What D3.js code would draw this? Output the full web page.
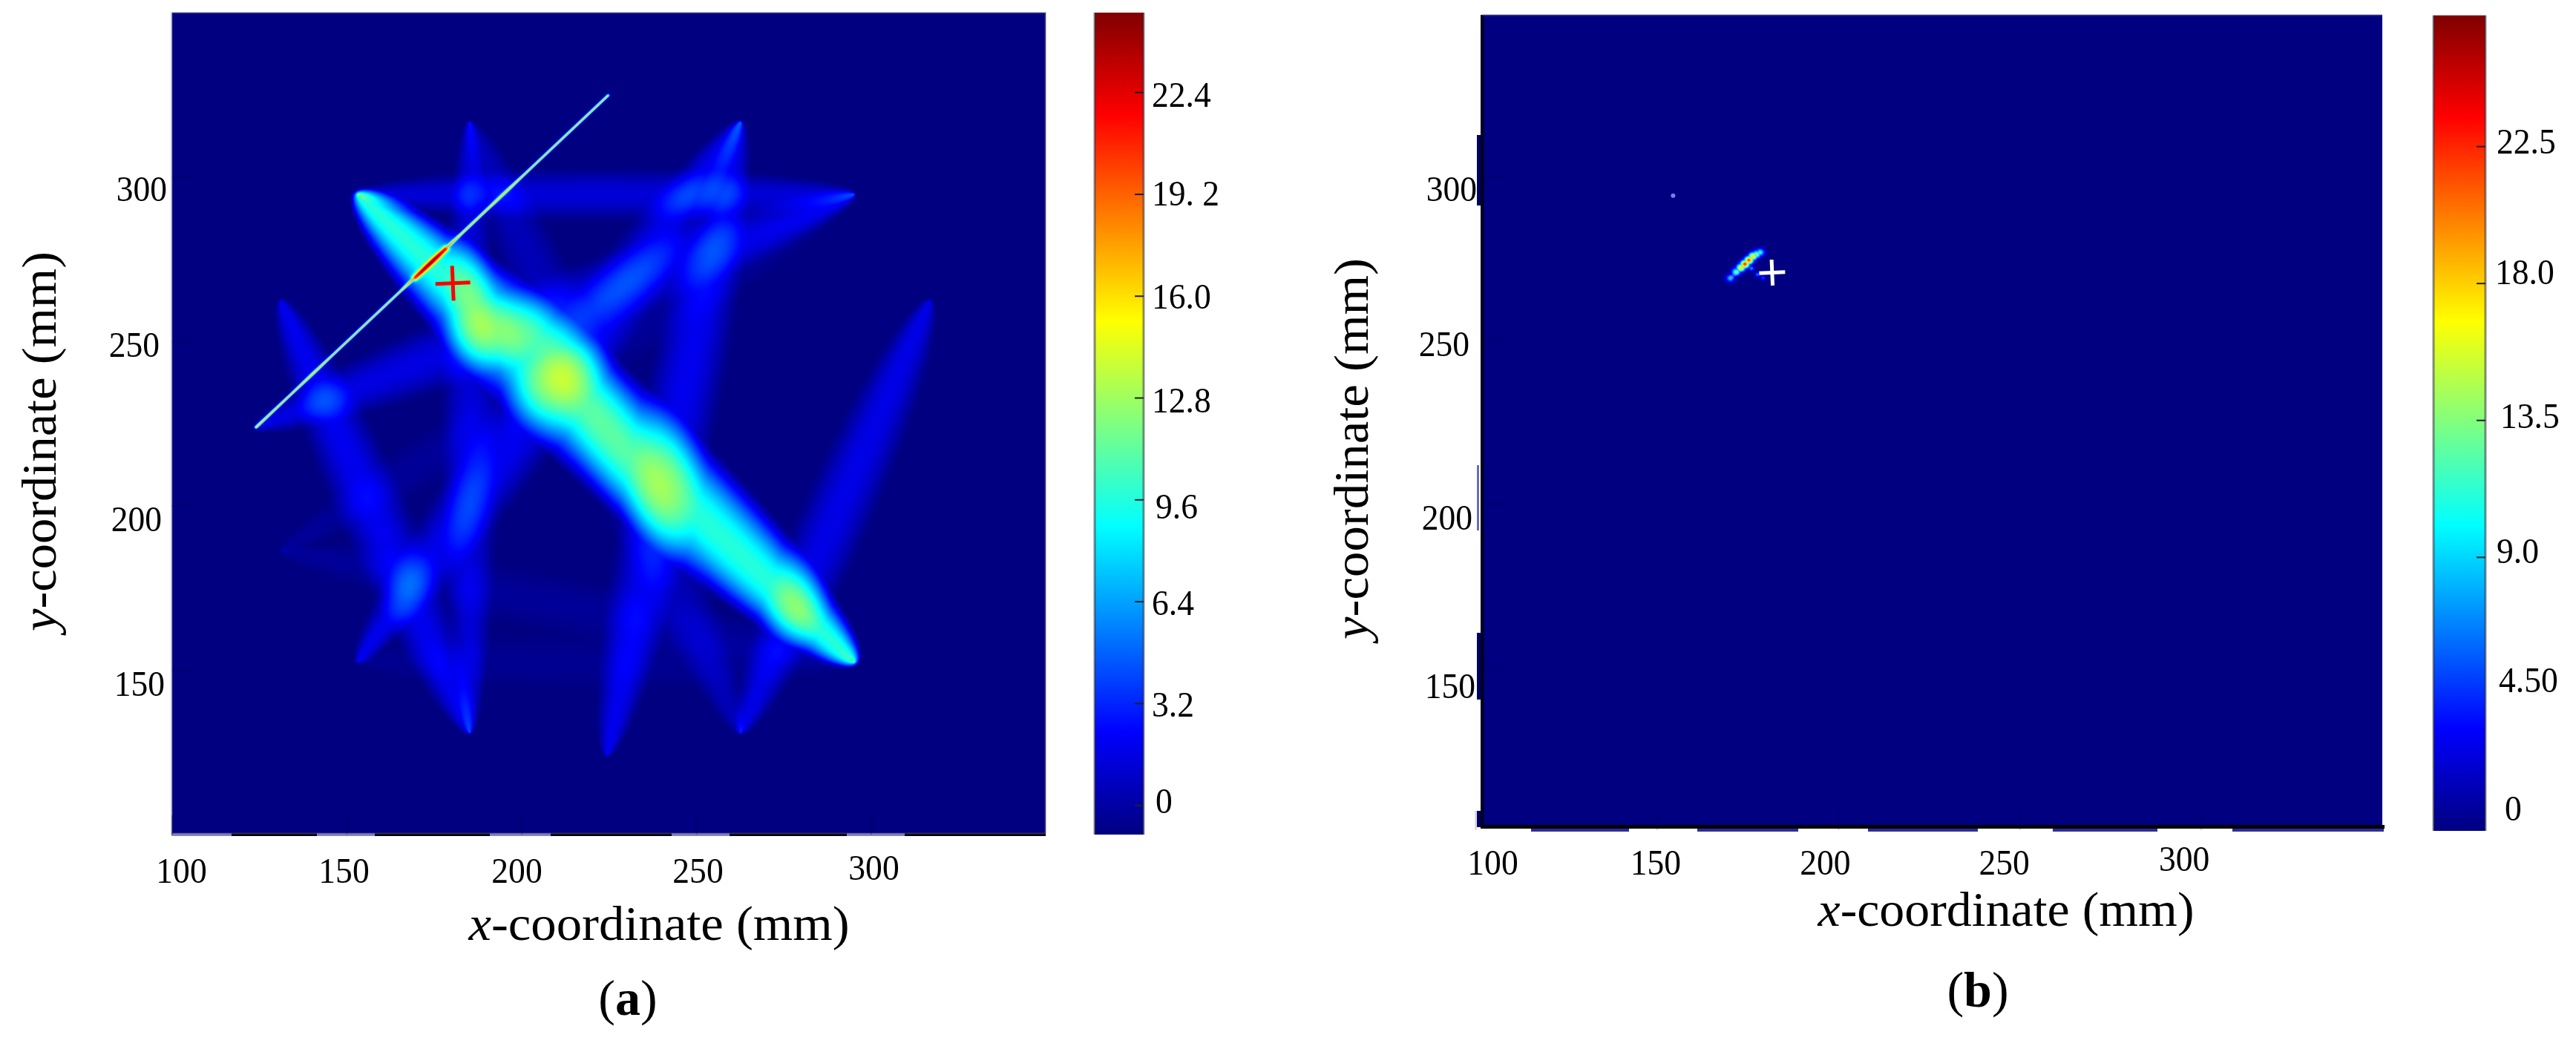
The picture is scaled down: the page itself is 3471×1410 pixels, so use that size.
<!DOCTYPE html>
<html>
<head>
<meta charset="utf-8">
<script src="https://cdnjs.cloudflare.com/ajax/libs/d3/7.8.5/d3.min.js"></script>
<style>
  body { margin: 0; background: #fff; }
  canvas, svg { position: absolute; left: 0; top: 0; }
  text { font-family: "Liberation Serif", serif; fill: #000; }
</style>
</head>
<body>
<canvas id="heatA"></canvas>
<canvas id="heatB"></canvas>
<svg id="chart" width="3471" height="1410"></svg>
<script>
// values, in mm
var axisTicks = [100, 150, 200, 250, 300],
    yTicks = [150, 200, 250, 300];

// (a) end points of the sensor paths
var sensorX = [153.2, 185.2, 262.7, 295.2, 295.2, 262.7, 224.5, 185.2, 153.2, 131.2, 131.2, 316.9, 124.1],
    sensorY = [294.7, 316.7, 316.7, 294.7, 152.6, 131.0, 124.1, 131.0, 152.6, 186.3, 262.3, 262.3, 223.9];

// (a) which sensors each streak joins, how strong, how wide, and how soft its edge is
var pathFrom = [0, 12, 8, 6, 7, 1, 1, 0, 5, 9, 8, 9],
    pathTo = [4, 3, 2, 2, 10, 7, 5, 3, 11, 4, 4, 3],
    pathPeak = [10.6, 2.5, 2.8, 2.8, 2.8, 2.2, 1.4, 2.2, 2.6, 0.6, 0.4, 0.6],
    pathHalfWidth = [18, 12, 12, 12, 11, 9, 12, 9, 11, 10, 10, 10],
    pathSoftness = [1.25, 1.6, 1.6, 1.6, 1.6, 1.6, 1.6, 1.6, 1.6, 1.6, 1.6, 1.6];

// (a) the thin bright line, then its thicker red stretch over the main streak
var thinX0 = [124.1, 169.5],
    thinY0 = [223.9, 269.3],
    thinX1 = [224.8, 178.5],
    thinY1 = [324.8, 278.3],
    thinPeak = [13.5, 14.5],
    thinSigma = [0.32, 0.6];

// (b) spots along the short bright mark, then the side branch
var spotX = [170.3, 171.9, 173.2, 174.3, 175.4, 176.5, 177.5, 178.5, 176.1, 177.8, 179.3],
    spotY = [269.1, 271.0, 272.3, 273.4, 274.6, 275.8, 276.4, 277.0, 272.1, 270.2, 269.2],
    spotPeak = [8, 12, 18, 23, 22, 18, 13, 10, 7, 6, 5],
    spotSigma = [0.85, 0.85, 0.85, 0.85, 0.85, 0.85, 0.85, 0.85, 0.55, 0.55, 0.5];

// (b) the stray dot
var strayX = [154.5],
    strayY = [294.4];

var crossA = [180.4, 267.7],
    crossB = [181.8, 270.8];

var barTicksA = [0, 3.2, 6.4, 9.6, 12.8, 16, 19.2, 22.4],
    barLabelsA = ["0", "3.2", "6.4", "9.6", "12.8", "16.0", "19. 2", "22.4"],
    barTicksB = [0, 4.5, 9, 13.5, 18, 22.5],
    barLabelsB = ["0", "4.50", "9.0", "13.5", "18.0", "22.5"];

// jet colour map
var jetStops = [0, 0.125, 0.375, 0.625, 0.875, 1],
    jetColours = ["#000080", "#0000ff", "#00ffff", "#ffff00", "#ff0000", "#800000"];

var barDomainA = [-0.93, 24.9],
    barDomainB = [0, 26.8];

function jetScale(domain) {
  return d3.scaleLinear()
    .domain(jetStops.map(function(t){ return domain[0] + t*(domain[1] - domain[0]); }))
    .range(jetColours)
    .clamp(true);
}

var xA = d3.scaleLinear().domain([100, 350]).range([231.5, 1409]),
    yA = d3.scaleLinear().domain([100, 350]).range([1125, 17]),
    xB = d3.scaleLinear().domain([100, 350]).range([1988, 3210]),
    yB = d3.scaleLinear().domain([100, 350]).range([1119, 19]),
    barA = d3.scaleLinear().domain(barDomainA).range([1125, 17]),
    barB = d3.scaleLinear().domain(barDomainB).range([1120, 20.7]),
    colourA = jetScale(barDomainA),
    colourB = jetScale(barDomainB);

var svg = d3.select("#chart");

// paints a field, one value per pixel, through the colour scale
function paint(id, x0, y0, x1, y1, xs, ys, colour, domain, valueAt) {
  var w = x1 - x0, h = y1 - y0;
  var canvas = document.getElementById(id);
  canvas.width = w;
  canvas.height = h;
  canvas.style.left = x0 + "px";
  canvas.style.top = y0 + "px";
  var ctx = canvas.getContext("2d"),
      img = ctx.createImageData(w, h);

  var lut = d3.range(1025).map(function(i){
    return d3.rgb(colour(domain[0] + (domain[1] - domain[0])*i/1024));
  });

  for (var j = 0; j < h; j++) {
    var dy = ys.invert(y0 + j + 0.5);
    for (var i = 0; i < w; i++) {
      var v = valueAt(xs.invert(x0 + i + 0.5), dy);
      var k = Math.max(0, Math.min(1024, Math.round((v - domain[0])/(domain[1] - domain[0])*1024)));
      var c = lut[k], o = (j*w + i)*4;
      img.data[o] = c.r;
      img.data[o + 1] = c.g;
      img.data[o + 2] = c.b;
      img.data[o + 3] = 255;
    }
  }
  ctx.putImageData(img, 0, 0);
}

// streaks are spindles with their tips on the two sensors
var streaks = pathFrom.map(function(f, i){
  var ax = sensorX[f], ay = sensorY[f], bx = sensorX[pathTo[i]], by = sensorY[pathTo[i]];
  var d = Math.hypot(bx - ax, by - ay);
  var beta = Math.sqrt(1 + Math.pow(2*pathHalfWidth[i]/d, 2));
  return {ax: ax, ay: ay, bx: bx, by: by, d: d, beta: beta, peak: pathPeak[i], soft: pathSoftness[i]};
});

function fieldA(x, y) {
  var v = barDomainA[0];
  for (var i = 0; i < streaks.length; i++) {
    var s = streaks[i];
    var r = (Math.hypot(x - s.ax, y - s.ay) + Math.hypot(x - s.bx, y - s.by))/s.d;
    if (r < s.beta) v += s.peak*Math.pow((s.beta - r)/(s.beta - 1), s.soft);
  }
  var line = 0;
  for (var n = 0; n < thinX0.length; n++) {
    var ax = thinX0[n], ay = thinY0[n], bx = thinX1[n], by = thinY1[n];
    var t = ((x - ax)*(bx - ax) + (y - ay)*(by - ay))/((bx - ax)*(bx - ax) + (by - ay)*(by - ay));
    t = Math.max(0, Math.min(1, t));
    var dist = Math.hypot(x - ax - t*(bx - ax), y - ay - t*(by - ay));
    if (dist < 3) line = Math.max(line, thinPeak[n]*Math.exp(-dist*dist/(2*thinSigma[n]*thinSigma[n])));
  }
  return v + line;
}

function fieldB(x, y) {
  var v = 0;
  if (x > 150 && x < 190 && y > 260 && y < 302) {
    for (var i = 0; i < spotX.length; i++) {
      var dx = x - spotX[i], dy = y - spotY[i];
      var g = spotPeak[i]*Math.exp(-(dx*dx + dy*dy)/(2*spotSigma[i]*spotSigma[i]));
      if (g > v) v = g;
    }
  }
  return v;
}

paint("heatA", 232, 17, 1409, 1125, xA, yA, colourA, barDomainA, fieldA);
paint("heatB", 1997, 20, 3210, 1116, xB, yB, colourB, barDomainB, fieldB);

// pale haze the scan left on the thin marks, skipped where the line runs red
[[thinX0[0], thinY0[0], thinX0[1], thinY0[1]], [thinX1[1], thinY1[1], thinX1[0], thinY1[0]]].forEach(function(seg){
  svg.append("line")
    .attr("x1", xA(seg[0])).attr("y1", yA(seg[1]))
    .attr("x2", xA(seg[2])).attr("y2", yA(seg[3]))
    .attr("stroke", "#c4cca4").attr("stroke-opacity", 0.6).attr("stroke-width", 3.5);
});
svg.append("line")
  .attr("x1", xB(spotX[0])).attr("y1", yB(spotY[0]))
  .attr("x2", xB(spotX[7])).attr("y2", yB(spotY[7]))
  .attr("stroke", "#d8d0b8").attr("stroke-opacity", 0.22).attr("stroke-width", 5).attr("stroke-linecap", "round");
svg.selectAll("circle.stray").data(strayX).enter().append("circle").attr("class", "stray")
  .attr("cx", function(d){ return xB(d); })
  .attr("cy", function(d, i){ return yB(strayY[i]); })
  .attr("r", 3).attr("fill", "#7c7cf0");

// scanned-in edges of the two pictures
var stripsA = [[232, 1123, 1177, 4, "#000"], [231, 1123, 81, 4, "#8484c4"], [427, 1123, 78, 4, "#8484c4"],
               [660, 1123, 82, 4, "#8484c4"], [905, 1123, 78, 4, "#8484c4"], [1141, 1123, 78, 4, "#8484c4"]];
var stripsB = [[1990, 182, 5, 95, "#000060"], [1990, 627, 3, 88, "#6c6cb0"], [1990, 853, 5, 90, "#000060"],
               [1990, 1093, 5, 22, "#000060"], [1997, 1112, 1216, 5, "#000"],
               [2063, 1117, 132, 4, "#2c2c98"], [2287, 1117, 136, 4, "#2c2c98"], [2517, 1117, 148, 4, "#2c2c98"],
               [2766, 1117, 141, 4, "#2c2c98"], [3008, 1117, 204, 4, "#2c2c98"], [1995, 20, 4.5, 1097, "#000020"]];

svg.append("g").selectAll("rect").data(stripsA.concat(stripsB)).enter().append("rect")
  .attr("x", function(d){ return d[0]; })
  .attr("y", function(d){ return d[1]; })
  .attr("width", function(d){ return d[2]; })
  .attr("height", function(d){ return d[3]; })
  .attr("fill", function(d){ return d[4]; });

svg.append("rect").attr("x", 231.5).attr("y", 17.5).attr("width", 1177).attr("height", 1106)
  .attr("fill", "none").attr("stroke", "#50508a").attr("stroke-opacity", 0.55).attr("stroke-width", 2);
svg.append("line").attr("x1", 1997).attr("x2", 3210).attr("y1", 20.5).attr("y2", 20.5)
  .attr("stroke", "#50508a").attr("stroke-opacity", 0.6).attr("stroke-width", 2);

// makes the tick labels a little narrower, like the original face
function squeeze(sel) {
  sel.each(function(){
    this.setAttribute("textLength", this.getComputedTextLength()*0.93);
    this.setAttribute("lengthAdjust", "spacingAndGlyphs");
  });
}

function drawAxis(axis, at, offsets, inner) {
  var g = svg.append("g").attr("transform", "translate(" + at + ")").call(axis);
  g.select(".domain").remove();
  g.selectAll(".tick line").attr("stroke", inner).attr("stroke-width", 2);
  g.selectAll(".tick text")
    .attr("font-family", "Liberation Serif")
    .attr("font-size", 49)
    .attr("text-anchor", function(d, i){ return offsets.anchor; })
    .attr("x", function(d, i){ return offsets.x[i]; })
    .attr("y", function(d, i){ return offsets.y[i]; })
    .attr("dy", "0.34em")
    .call(squeeze);
  return g;
}

// every label in the reference sits a bit off its tick, each by its own amount
drawAxis(d3.axisBottom(xA).tickValues(axisTicks).tickSizeInner(-26).tickSizeOuter(0), "0,1125",
  {anchor: "middle", x: [12.5, -4, -6.5, 2, 3.5], y: [48, 48, 48, 48, 44]}, "rgba(0,0,60,0.25)");
drawAxis(d3.axisLeft(yA).tickValues(yTicks).tickSizeInner(-30).tickSizeOuter(0), "231.5,0",
  {anchor: "end", x: [-9.5, -13.5, -16.5, -6.5], y: [17, 17, 4, 15]}, "rgba(0,0,60,0.25)");
drawAxis(d3.axisBottom(xB).tickValues(axisTicks).tickSizeInner(-26).tickSizeOuter(0), "0,1119",
  {anchor: "middle", x: [23, -2, -18, -21, -23], y: [43, 43, 43, 43, 38]}, "rgba(0,0,60,0.2)");
drawAxis(d3.axisLeft(yB).tickValues(yTicks).tickSizeInner(-30).tickSizeOuter(0), "1997,0",
  {anchor: "end", x: [-9, -13, -17, -7], y: [25, 18, 4, 15]}, "rgba(0,0,60,0.2)");

// axis titles
function title(x, y, rotate, length, main) {
  var t = svg.append("text")
    .attr("transform", "translate(" + x + "," + y + ")" + (rotate ? " rotate(-90)" : ""))
    .attr("text-anchor", "middle")
    .attr("font-size", 66)
    .attr("textLength", length)
    .attr("lengthAdjust", "spacingAndGlyphs");
  t.append("tspan").attr("font-style", "italic").text(main);
  t.append("tspan").text("-coordinate (mm)");
}
title(888, 1267, false, 513, "x");
title(2703, 1248, false, 507, "x");
title(75, 595, true, 512, "y");
title(1843, 605, true, 514, "y");

function caption(x, y, letter) {
  var t = svg.append("text").attr("x", x).attr("y", y).attr("text-anchor", "middle").attr("font-size", 68);
  t.append("tspan").text("(");
  t.append("tspan").attr("font-weight", "bold").text(letter);
  t.append("tspan").text(")");
}
caption(846, 1368, "a");
caption(2665, 1357, "b");

// markers
function cross(x, y, arm, colour) {
  var g = svg.append("g").attr("transform", "translate(" + x + "," + y + ") rotate(-2.4)")
    .attr("stroke", colour).attr("stroke-width", 5);
  g.append("line").attr("x1", -arm).attr("x2", arm);
  g.append("line").attr("y1", -arm).attr("y2", arm);
}
cross(xA(crossA[0]), yA(crossA[1]), 23.5, "#ff0000");
cross(xB(crossB[0]), yB(crossB[1]), 17.5, "#ffffff");

// colour bars
function colourBar(id, x0, x1, scale, colour, domain, ticks, labels, offsets, noTick) {
  var defs = svg.append("defs").append("linearGradient").attr("id", id)
    .attr("x1", 0).attr("x2", 0).attr("y1", 1).attr("y2", 0);
  defs.selectAll("stop").data(jetStops).enter().append("stop")
    .attr("offset", function(d){ return d; })
    .attr("stop-color", function(d, i){ return jetColours[i]; });

  var r = scale.range();
  svg.append("rect").attr("x", x0).attr("y", r[1]).attr("width", x1 - x0).attr("height", r[0] - r[1])
    .attr("fill", "url(#" + id + ")");
  [x0, x1].forEach(function(x){
    svg.append("line").attr("x1", x).attr("x2", x).attr("y1", r[1]).attr("y2", r[0])
      .attr("stroke", "#303040").attr("stroke-opacity", 0.55).attr("stroke-width", 3);
  });

  var axis = d3.axisRight(scale).tickValues(ticks)
    .tickFormat(function(d, i){ return labels[i]; })
    .tickSizeInner(-12).tickSizeOuter(0);
  var g = drawAxis(axis, x1 + ",0", {anchor: "start", x: offsets.x, y: offsets.y}, "#202028");
  g.selectAll(".tick line").filter(function(d){ return noTick.indexOf(d) >= 0; }).remove();
}
colourBar("jetA", 1475, 1541, barA, colourA, barDomainA, barTicksA, barLabelsA,
  {x: [16, 11, 11, 16, 11, 11, 11, 11], y: [-6, 1, 1, 9, 3, 0, -2, 3]}, []);
colourBar("jetB", 3279, 3349, barB, colourB, barDomainB, barTicksB, barLabelsB,
  {x: [26, 18, 15, 20, 13, 15], y: [-31, -20, -9, -6, -16, -7]}, [0, 4.5]);
</script>
</body>
</html>
